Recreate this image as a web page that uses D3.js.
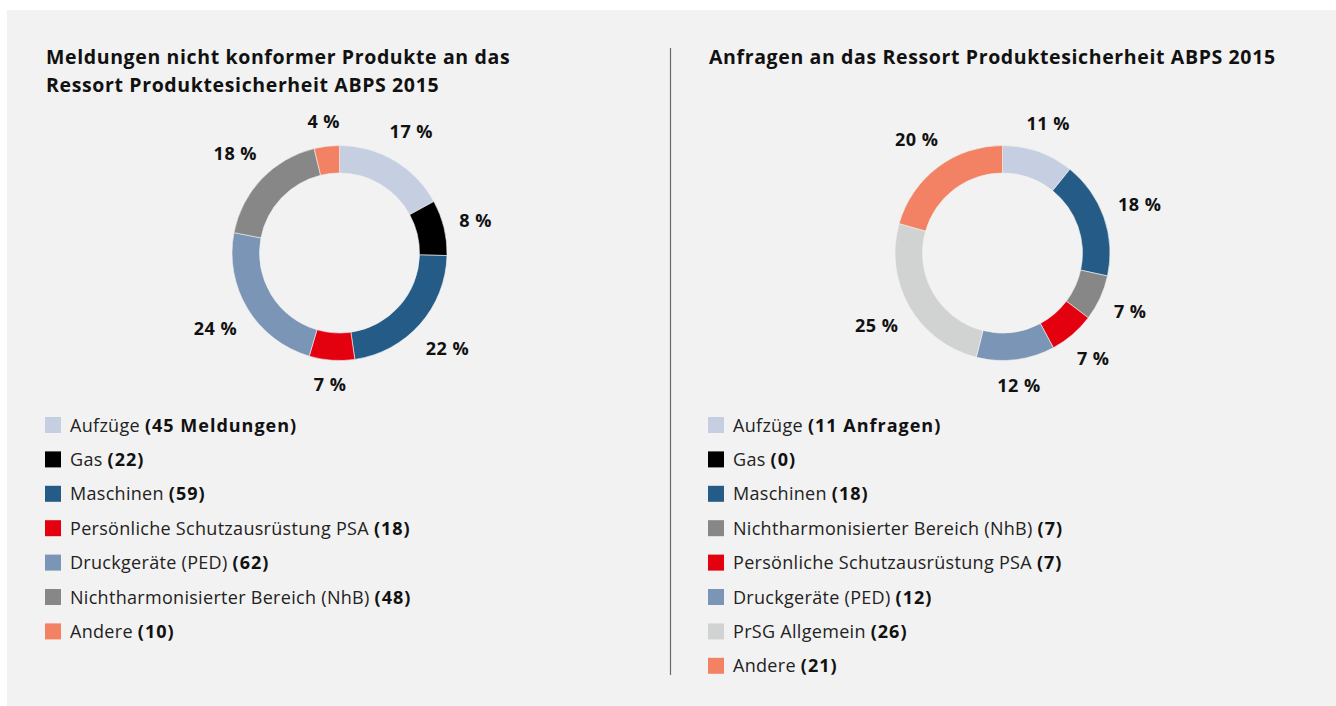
<!DOCTYPE html>
<html>
<head>
<meta charset="utf-8">
<script src="https://cdn.jsdelivr.net/npm/d3@7"></script>
<style>
  body { margin: 0; background: #fff; }
  svg { display: block; font-family: "Open Sans", sans-serif; }
</style>
</head>
<body>
<script>
var svgWidth = 1336;
var svgHeight = 706;

// chart 1 - Meldungen
var categories1 = ["Aufzüge", "Gas", "Maschinen", "Persönliche Schutzausrüstung PSA", "Druckgeräte (PED)", "Nichtharmonisierter Bereich (NhB)", "Andere"];
var values1 = [45, 22, 59, 18, 62, 48, 10];
var pctLabels1 = ["17 %", "8 %", "22 %", "7 %", "24 %", "18 %", "4 %"];
var colors1 = ["#c5cfe1", "#000000", "#245c87", "#e3000f", "#7a95b5", "#878787", "#f28263"];

// chart 2 - Anfragen
var categories2 = ["Aufzüge", "Gas", "Maschinen", "Nichtharmonisierter Bereich (NhB)", "Persönliche Schutzausrüstung PSA", "Druckgeräte (PED)", "PrSG Allgemein", "Andere"];
var values2 = [11, 0, 18, 7, 7, 12, 26, 21];
var pctLabels2 = ["11 %", "", "18 %", "7 %", "7 %", "12 %", "25 %", "20 %"];
var colors2 = ["#c5cfe1", "#000000", "#245c87", "#878787", "#e3000f", "#7a95b5", "#d1d3d2", "#f28263"];

var svg = d3.select("body").append("svg")
    .attr("width", svgWidth)
    .attr("height", svgHeight);

svg.append("rect")
    .attr("x", 7).attr("y", 10)
    .attr("width", svgWidth - 7).attr("height", svgHeight - 10)
    .attr("fill", "#f2f2f2");

// divider
svg.append("line")
    .attr("x1", 670.5).attr("x2", 670.5)
    .attr("y1", 48).attr("y2", 675)
    .attr("stroke", "#6b6b6b").attr("stroke-width", 1.2);

function drawDonut(opts) {
    var g = svg.append("g");

    // title
    var title = g.append("text")
        .attr("x", opts.titleX)
        .attr("y", 64)
        .attr("font-size", 19.5)
        .attr("letter-spacing", 0.63)
        .attr("font-weight", "bold")
        .attr("fill", "#111");
    opts.title.forEach(function(line, i) {
        title.append("tspan")
            .attr("x", opts.titleX)
            .attr("dy", i == 0 ? 0 : 27.5)
            .text(line);
    });

    var pie = d3.pie().sort(null).value(function(d) { return d; });
    var arcs = pie(opts.values);
    var outerR = 107.5, innerR = 80;
    var arc = d3.arc().innerRadius(innerR).outerRadius(outerR);

    var chart = g.append("g")
        .attr("transform", "translate(" + opts.cx + "," + opts.cy + ")");

    chart.selectAll("path")
        .data(arcs)
        .enter()
        .append("path")
        .attr("d", arc)
        .attr("fill", function(d, i) { return opts.colors[i]; })
        .attr("stroke", "#f2f2f2")
        .attr("stroke-width", 0.6);

    // percent labels outside the ring
    var labels = chart.selectAll(".pct")
        .data(arcs.filter(function(d) { return d.value > 0; }))
        .enter()
        .append("text")
        .attr("class", "pct")
        .attr("font-size", 18)
        .attr("letter-spacing", 0.5)
        .attr("font-weight", "bold")
        .attr("fill", "#111")
        .attr("text-anchor", "middle")
        .text(function(d) { return opts.pct[d.index]; });

    labels.each(function(d) {
        var a = (d.startAngle + d.endAngle) / 2;
        var ux = Math.sin(a), uy = -Math.cos(a);
        var w = this.getComputedTextLength();
        var r = 122 + Math.abs(ux) * w / 2 + Math.abs(uy) * 9;
        d3.select(this)
            .attr("x", ux * r)
            .attr("y", uy * r + 6.5);
    });

    // legend
    var legend = g.selectAll(".leg")
        .data(opts.categories)
        .enter()
        .append("g")
        .attr("transform", function(d, i) {
            return "translate(" + opts.legendX + "," + (417 + i * 34.4) + ")";
        });

    legend.append("rect")
        .attr("width", 16).attr("height", 16)
        .attr("fill", function(d, i) { return opts.colors[i]; });

    var lt = legend.append("text")
        .attr("x", 25)
        .attr("y", 14.5)
        .attr("font-size", 18)
        .attr("fill", "#222");
    lt.append("tspan")
        .attr("letter-spacing", 0.3)
        .text(function(d) { return d + " "; });
    lt.append("tspan")
        .attr("font-weight", "bold")
        .attr("letter-spacing", 1)
        .attr("fill", "#111")
        .text(function(d, i) {
            return "(" + opts.values[i] + (i == 0 ? " " + opts.unit : "") + ")";
        });
}

drawDonut({
    title: ["Meldungen nicht konformer Produkte an das", "Ressort Produktesicherheit ABPS 2015"],
    titleX: 46,
    categories: categories1, values: values1, colors: colors1, pct: pctLabels1,
    unit: "Meldungen",
    cx: 339.5, cy: 253,
    legendX: 45
});

drawDonut({
    title: ["Anfragen an das Ressort Produktesicherheit ABPS 2015"],
    titleX: 709,
    categories: categories2, values: values2, colors: colors2, pct: pctLabels2,
    unit: "Anfragen",
    cx: 1002.5, cy: 253,
    legendX: 708
});
</script>
</body>
</html>
